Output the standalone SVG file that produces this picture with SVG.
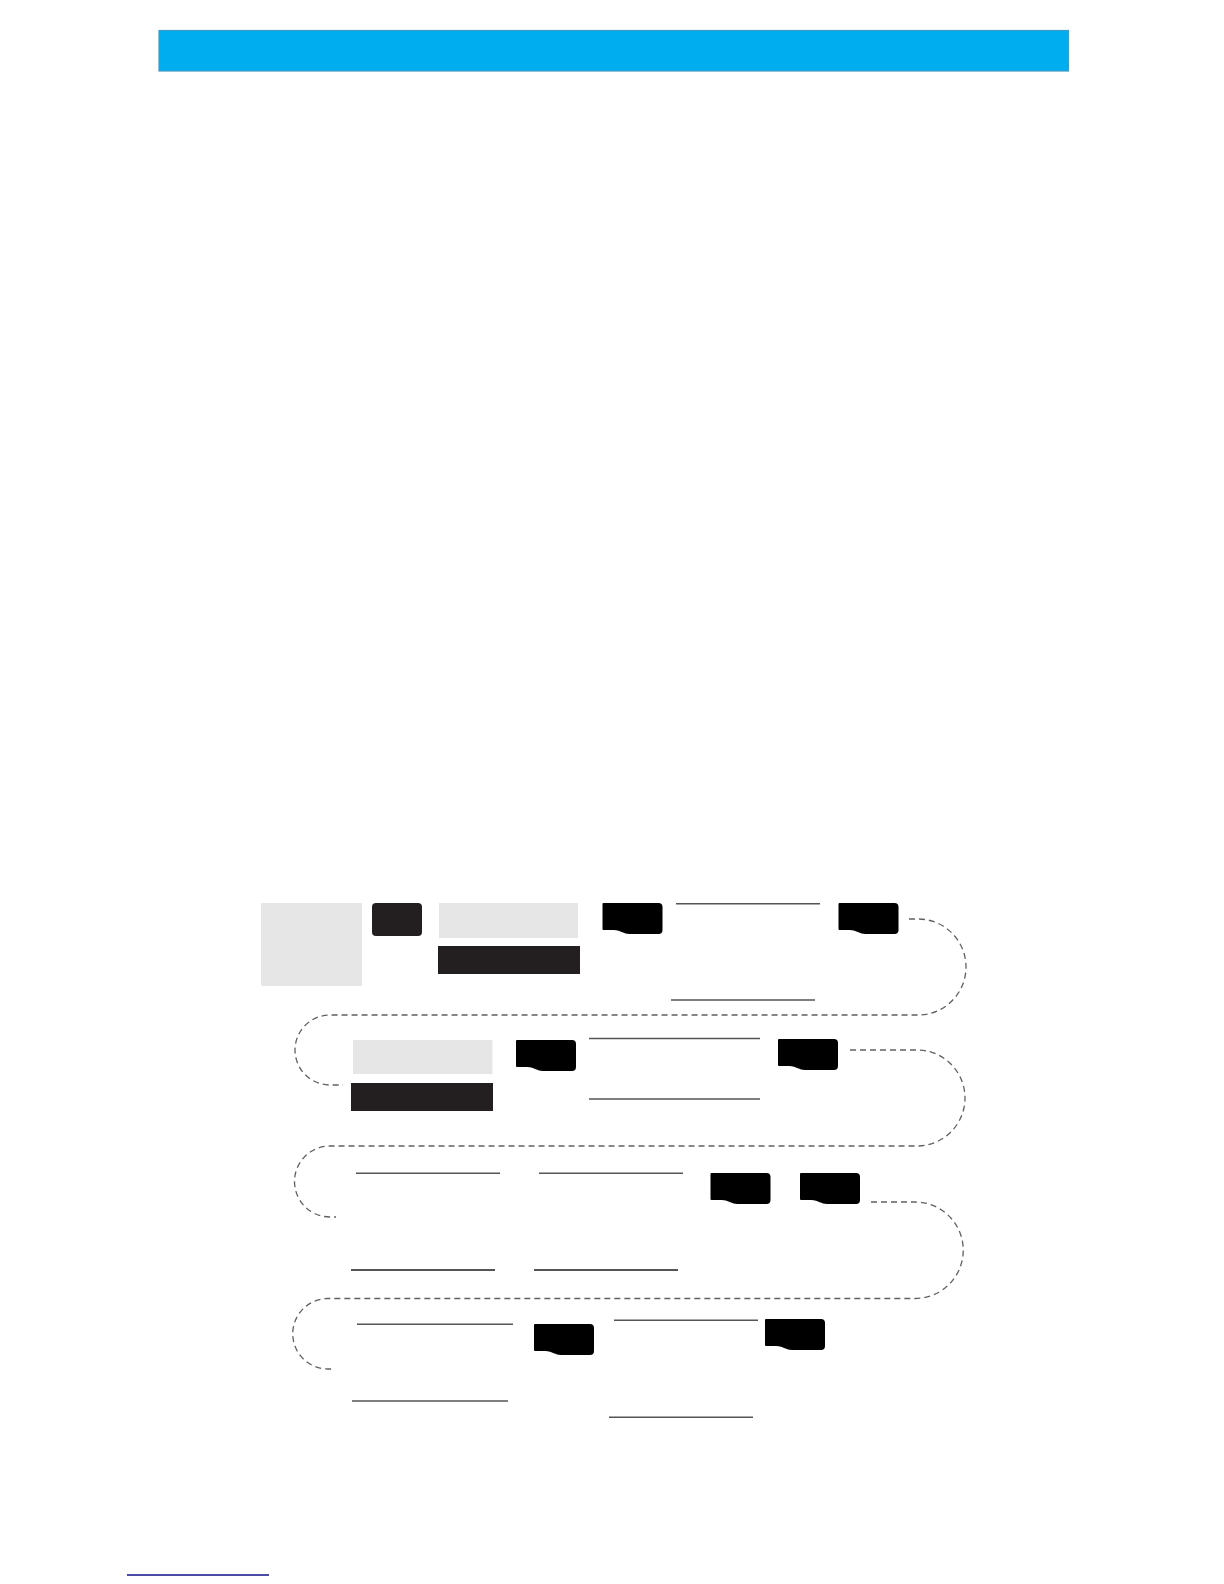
<svg xmlns="http://www.w3.org/2000/svg" xmlns:xlink="http://www.w3.org/1999/xlink" width="1224" height="1584" viewBox="0 0 1224 1584">
  <style>
    .light { fill: #e6e6e6; }
    .dark { fill: #231f20; }
    .tab { fill: #000000; }
    .rule { stroke: #555555; stroke-width: 1.4; fill: none; }
    .rule-b { stroke: #555555; stroke-width: 2.2; fill: none; }
    .flow { stroke: #606060; stroke-width: 1.3; fill: none; stroke-dasharray: 6 4; }
    .link { stroke: #10108a; stroke-width: 1.5; fill: none; }
  </style>
  <defs>
    <path id="tabShape" d="M0,1 Q0,0 1,0 H56 Q60,0 60,4 V27 Q60,31 56,31 H27 C21,31 19,27.5 11,27 H1 Q0,27 0,26 Z"/>
  </defs>
  <rect width="1224" height="1584" fill="#ffffff"/>

  <g id="header">
    <rect x="159" y="30.5" width="909.5" height="40.5" fill="#00aeef" stroke="#3b9cc9" stroke-width="1.2"/>
  </g>

  <g id="connectors">
    <path class="flow" d="M909 919 H918 A48 48 0 0 1 918 1015 H330 A35 35 0 0 0 330 1085 H343"/>
    <path class="flow" d="M850 1050 H917 A48 48 0 0 1 917 1146 H330 A35.5 35.5 0 0 0 330 1217 H336"/>
    <path class="flow" d="M871 1202 H915 A48 48 0 0 1 915 1298.5 H328 A35 35 0 0 0 328 1369 H334"/>
  </g>

  <g id="row1">
    <g id="n-photo"><rect class="light" x="261" y="903" width="101" height="83" rx="1"/></g>
    <g id="n-key1"><rect class="dark" x="372" y="903" width="50" height="33" rx="4"/></g>
    <g id="n-field1"><rect class="light" x="439" y="903" width="139" height="35"/></g>
    <g id="n-bar1"><rect class="dark" x="438" y="946" width="142" height="28"/></g>
    <g id="n-tab1"><use href="#tabShape" xlink:href="#tabShape" class="tab" transform="translate(602.5,903)"/></g>
    <g id="n-text1">
      <line class="rule" x1="676" y1="903.7" x2="820" y2="903.7"/>
      <line class="rule" x1="671" y1="1000" x2="815" y2="1000"/>
    </g>
    <g id="n-tab2"><use href="#tabShape" xlink:href="#tabShape" class="tab" transform="translate(838.5,903)"/></g>
  </g>

  <g id="row2">
    <g id="n-field2"><rect class="light" x="353" y="1040" width="139.5" height="34"/></g>
    <g id="n-bar2"><rect class="dark" x="351" y="1083" width="142" height="28"/></g>
    <g id="n-tab3"><use href="#tabShape" xlink:href="#tabShape" class="tab" transform="translate(516,1040)"/></g>
    <g id="n-text2">
      <line class="rule" x1="589" y1="1038.5" x2="760" y2="1038.5"/>
      <line class="rule" x1="589" y1="1099" x2="760" y2="1099"/>
    </g>
    <g id="n-tab4"><use href="#tabShape" xlink:href="#tabShape" class="tab" transform="translate(778,1039)"/></g>
  </g>

  <g id="row3">
    <g id="n-text3">
      <line class="rule" x1="356" y1="1173.3" x2="500" y2="1173.3"/>
      <line class="rule-b" x1="351" y1="1270" x2="495" y2="1270"/>
    </g>
    <g id="n-text4">
      <line class="rule" x1="539" y1="1173.3" x2="683" y2="1173.3"/>
      <line class="rule-b" x1="534" y1="1270" x2="678" y2="1270"/>
    </g>
    <g id="n-tab5"><use href="#tabShape" xlink:href="#tabShape" class="tab" transform="translate(710.5,1173)"/></g>
    <g id="n-tab6"><use href="#tabShape" xlink:href="#tabShape" class="tab" transform="translate(800,1173)"/></g>
  </g>

  <g id="row4">
    <g id="n-text5">
      <line class="rule" x1="357" y1="1324.3" x2="513" y2="1324.3"/>
      <line class="rule" x1="352" y1="1401" x2="508" y2="1401"/>
    </g>
    <g id="n-tab7"><use href="#tabShape" xlink:href="#tabShape" class="tab" transform="translate(534,1324)"/></g>
    <g id="n-text6">
      <line class="rule" x1="614" y1="1320.3" x2="758" y2="1320.3"/>
      <line class="rule" x1="609" y1="1417.3" x2="753" y2="1417.3"/>
    </g>
    <g id="n-tab8"><use href="#tabShape" xlink:href="#tabShape" class="tab" transform="translate(765,1319)"/></g>
  </g>

  <g id="footer">
    <line class="link" x1="127" y1="1575" x2="269" y2="1575"/>
  </g>
</svg>
